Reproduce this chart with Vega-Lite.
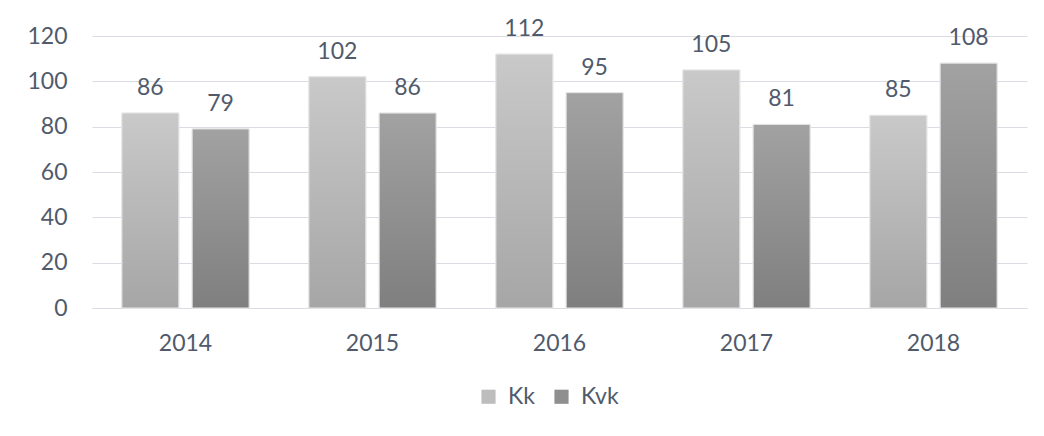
{
  "$schema": "https://vega.github.io/schema/vega-lite/v6.json",
  "width": 935,
  "height": 272,
  "autosize": {"type": "none"},
  "padding": {"left": 92, "top": 36, "right": 17, "bottom": 128},
  "background": "white",
  "data": {
    "values": [
      {"year": "2014", "series": "Kk", "value": 86},
      {"year": "2014", "series": "Kvk", "value": 79},
      {"year": "2015", "series": "Kk", "value": 102},
      {"year": "2015", "series": "Kvk", "value": 86},
      {"year": "2016", "series": "Kk", "value": 112},
      {"year": "2016", "series": "Kvk", "value": 95},
      {"year": "2017", "series": "Kk", "value": 105},
      {"year": "2017", "series": "Kvk", "value": 81},
      {"year": "2018", "series": "Kk", "value": 85},
      {"year": "2018", "series": "Kvk", "value": 108}
    ]
  },
  "encoding": {
    "x": {
      "field": "year", "type": "nominal", "title": null,
      "scale": {"paddingInner": 0.32, "paddingOuter": 0.16},
      "axis": {"labelAngle": 0, "ticks": false, "domainColor": "#D9DDE3", "labelPadding": 24, "grid": false}
    },
    "xOffset": {
      "field": "series", "type": "nominal",
      "scale": {"domain": ["Kk", "Kvk"], "paddingInner": 0.19, "paddingOuter": 0}
    },
    "y": {
      "field": "value", "type": "quantitative", "title": null,
      "scale": {"domain": [0, 120], "nice": false},
      "axis": {"values": [0, 20, 40, 60, 80, 100, 120], "grid": true, "gridColor": "#D9DDE3", "domain": false, "ticks": false, "labelPadding": 25}
    }
  },
  "layer": [
    {
      "mark": {"type": "bar", "stroke": "#E6E6E6", "strokeWidth": 1},
      "encoding": {
        "color": {
          "field": "series", "type": "nominal",
          "scale": {"domain": ["Kk", "Kvk"], "range": ["#BDBDBD", "#8F8F8F"]},
          "legend": {
            "orient": "none", "legendX": 385, "legendY": 349,
            "direction": "horizontal", "title": null,
            "symbolType": "square", "symbolSize": 200, "symbolStrokeWidth": 0,
            "labelFontSize": 23, "labelColor": "#505A6B", "labelFont": "Lato",
            "columnPadding": 15, "labelOffset": 8
          }
        }
      }
    },
    {
      "transform": [{"filter": "datum.series === 'Kk'"}],
      "mark": {
        "type": "bar", "stroke": "#E6E6E6", "strokeWidth": 1,
        "fill": {"gradient": "linear", "x1": 0, "y1": 0, "x2": 0, "y2": 1,
          "stops": [{"offset": 0, "color": "#C9C9C9"}, {"offset": 1, "color": "#A6A6A6"}]}
      }
    },
    {
      "transform": [{"filter": "datum.series === 'Kvk'"}],
      "mark": {
        "type": "bar", "stroke": "#E6E6E6", "strokeWidth": 1,
        "fill": {"gradient": "linear", "x1": 0, "y1": 0, "x2": 0, "y2": 1,
          "stops": [{"offset": 0, "color": "#A2A2A2"}, {"offset": 1, "color": "#7F7F7F"}]}
      }
    },
    {
      "mark": {"type": "text", "baseline": "alphabetic", "dy": -18, "fontSize": 23, "font": "Lato", "color": "#505A6B"},
      "encoding": {"text": {"field": "value", "type": "quantitative"}}
    }
  ],
  "config": {
    "view": {"stroke": null},
    "axis": {"labelFontSize": 23, "labelFont": "Lato", "labelColor": "#505A6B"}
  }
}
